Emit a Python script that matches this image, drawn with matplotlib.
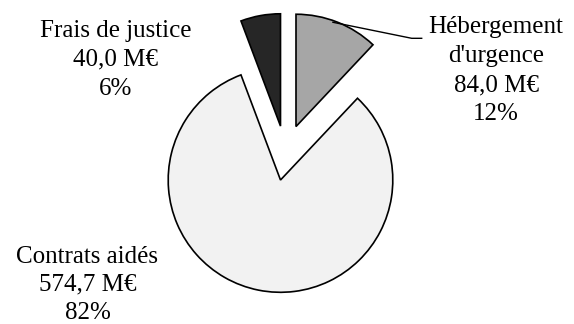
import matplotlib
matplotlib.use("Agg")
import matplotlib.pyplot as plt
import numpy as np

# Data
categories = ["Hébergement\nd'urgence", "Contrats aidés", "Frais de justice"]
values = [84.0, 574.7, 40.0]
colors = ["#a6a6a6", "#f2f2f2", "#262626"]

# Style / layout (pixel-based calibration)
W, H = 574, 324
CX, CY, R = 280.5, 180.0, 112.3  # pie centre & radius in pixels
offsets = [(0.138, 0.476), (0.0, 0.0), (0.0, 0.48)]  # exploded wedge shifts (radius units)
label_px = [(496.0, 120.5), (87.5, 319.0), (115.6, 95.0)]  # last-line baselines


def px2d(px, py):
    return (px - CX) / R, (CY - py) / R


def fmt_fr(v, dec):
    return f"{v:.{dec}f}".replace(".", ",")


fig = plt.figure(figsize=(W / 100, H / 100), dpi=100)
ax = fig.add_axes([0, 0, 1, 1])

wedges, _ = ax.pie(values, startangle=90, counterclock=False, colors=colors,
                   radius=1.0,
                   wedgeprops=dict(edgecolor="black", linewidth=1.2))
for w, off in zip(wedges, offsets):
    w.set_center(off)

ax.set_xlim(*[(x - CX) / R for x in (0, W)])
ax.set_ylim((CY - H) / R, CY / R)
ax.set_aspect("auto")
ax.axis("off")

total = sum(values)
for cat, v, (lx, ly) in zip(categories, values, label_px):
    txt = f"{cat}\n{fmt_fr(v, 1)} M€\n{round(100 * v / total):.0f}%"
    x, y = px2d(lx, ly)
    spacing = 1.42 if "Contrats" not in cat else 1.36
    ax.text(x, y, txt, ha="center", va="baseline", multialignment="center",
            fontsize=18, family="Liberation Serif", linespacing=spacing,
            color="black")

# Leader line for Hébergement d'urgence
w0 = wedges[0]
mid = np.deg2rad(70.5)
sx = w0.center[0] + 0.985 * np.cos(mid)
sy = w0.center[1] + 0.985 * np.sin(mid)
ex1, ey1 = px2d(411.7, 38.3)
ex2, ey2 = px2d(421.7, 38.3)
ax.plot([sx, ex1, ex2], [sy, ey1, ey2], color="black", lw=1.0)

fig.savefig("out.png", dpi=100)
